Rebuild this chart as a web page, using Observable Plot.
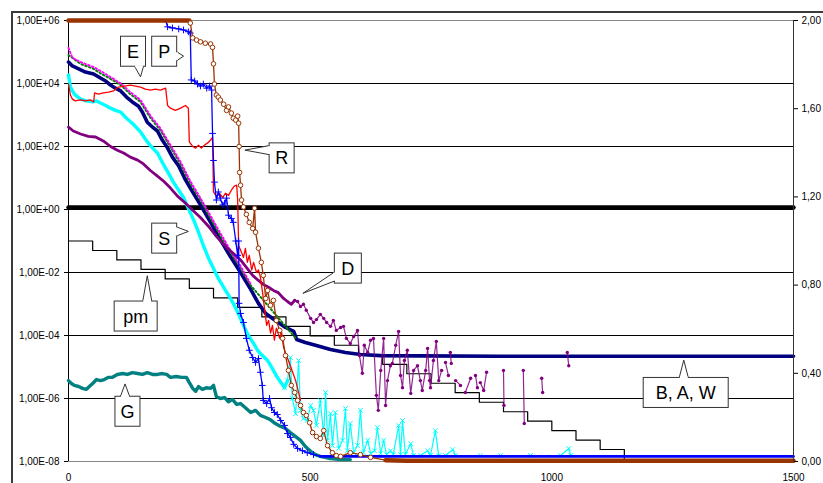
<!DOCTYPE html>
<html><head><meta charset="utf-8">
<script src="https://cdn.jsdelivr.net/npm/d3@7"></script>
<script src="https://cdn.jsdelivr.net/npm/@observablehq/plot@0.6"></script>
<style>
html,body{margin:0;padding:0;background:#fff;overflow:hidden;}
#wrap{position:relative;width:823px;height:483px;overflow:hidden;}
#wrap svg{position:absolute;left:0;top:0;}
#border{position:absolute;left:11px;top:11px;width:900px;height:600px;border-left:2px solid #3a3a3a;border-top:2px solid #3a3a3a;}
</style></head><body><div id="wrap"><div id="border"></div></div>
<script>
// ---------- axis ticks ----------
const xTicks = [0, 500, 1000, 1500];
const yTicks = [1e-8, 1e-6, 1e-4, 1e-2, 1, 1e2, 1e4, 1e6];
const rightTicks = [0, 0.4, 0.8, 1.2, 1.6, 2.0];

// ---------- series (x, value) ----------
const seriesR = [[0,1e6],[110,1e6],[190,1e6],[250,1e6],[252,8.3e5],[257,2.8e5],[265,2.4e5],[273,2.1e5],[283,1.9e5],[294,1.8e5],[298,1.4e5],[300,4.2e4],[302,9.6e3],[306,4.3e3],[310,3.7e3],[314,3.0e3],[321,2.2e3],[327,1.4e3],[331,1.8e3],[337,1.15e3],[341,7.9e2],[346,6.9e2],[350,9.2e2],[352,5.5e2],[353,1.0e2],[354,15],[356,5.9],[358,2.0],[362,1.2],[368,0.7],[374,0.39],[381,0.25],[385,1.1],[387,0.19],[393,0.059],[399,0.021],[403,8.1e-3],[408,1.5e-3],[412,2.7e-3],[418,9.1e-4],[424,1.3e-3],[430,3.0e-4],[437,1.45e-4],[443,8.1e-5],[449,2.3e-5],[455,7.8e-6],[461,2.6e-6],[468,1.55e-6],[474,8.7e-7],[480,6.0e-7],[486,3.6e-7],[492,2.9e-7],[499,1.7e-7],[505,8.3e-8],[513,6.2e-8],[521,5.4e-8],[528,9.6e-8],[536,3.2e-8],[546,1.9e-8],[554,1.55e-8],[563,1.45e-8],[583,1.9e-8],[604,1.65e-8],[625,1.35e-8],[656,1.1e-8],[700,1.05e-8],[800,1.05e-8],[900,1.05e-8],[1000,1.05e-8],[1100,1.05e-8],[1200,1.05e-8],[1300,1.05e-8],[1400,1.05e-8],[1500,1.05e-8]];

const seriesP = [[0,1e6],[100,1e6],[201,1e6],[205,6.3e5],[215,5.8e5],[228,5.4e5],[238,5.0e5],[248,4.4e5],[252,4.0e5],[254,1.3e4],[261,1.2e4],[267,9.6e3],[273,8.3e3],[279,9.6e3],[286,7.1e3],[292,8.3e3],[296,6.2e3],[298,2.6e2],[300,36],[302,7.4],[306,2.0],[310,3.6],[314,2.3],[319,1.4],[323,1.6],[327,2.3],[331,0.66],[337,0.52],[341,0.39],[346,0.10],[350,0.035],[352,0.10],[353,1.05e-3],[356,5.0e-4],[362,2.6e-4],[368,8.1e-5],[374,3.4e-5],[381,2.0e-5],[387,1.4e-5],[393,1.85e-5],[397,6.8e-6],[401,2.6e-6],[403,8.7e-7],[410,6.9e-7],[416,1.0e-6],[420,5.1e-7],[426,3.6e-7],[432,3.1e-7],[439,2.0e-7],[447,1.4e-7],[453,7.7e-8],[459,5.8e-8],[466,3.5e-8],[474,2.6e-8],[484,2.2e-8],[494,1.9e-8],[507,1.65e-8],[521,1.45e-8],[542,1.45e-8],[700,1.45e-8],[900,1.45e-8],[1100,1.45e-8],[1300,1.45e-8],[1500,1.45e-8]];

const seriesE = [[0,9.6e3],[4,4.3e3],[8,3.2e3],[14,2.8e3],[25,3.0e3],[35,2.8e3],[46,3.0e3],[52,2.6e3],[54,5.0e3],[62,4.6e3],[72,5.0e3],[83,5.3e3],[93,5.8e3],[103,7.7e3],[116,8.3e3],[128,8.9e3],[139,8.3e3],[149,7.7e3],[159,6.6e3],[170,6.2e3],[180,6.6e3],[190,6.2e3],[201,7.1e3],[205,2.0e3],[211,1.65e3],[221,1.4e3],[232,1.65e3],[242,2.0e3],[248,1.65e3],[250,1.4e2],[257,1.0e2],[263,89],[269,1.1e2],[275,89],[281,1.1e2],[288,1.3e2],[294,1.6e2],[298,2.0e2],[300,3.6],[306,2.6],[312,3.3],[319,2.4],[325,3.3],[331,2.8],[337,4.1],[343,5.5],[348,5.9],[350,2.0],[352,0.072],[358,0.043],[362,0.030],[366,0.058],[370,0.021],[374,0.035],[379,0.012],[383,0.021],[389,0.010],[393,0.012],[397,7.1e-3],[401,2.7e-3],[406,6.3e-4],[410,2.1e-4],[414,3.0e-4],[418,1.2e-4],[422,2.1e-4],[426,7.1e-5],[430,1.7e-4],[437,8.1e-5],[441,1.26e-4],[445,4.2e-5],[451,2.3e-5],[459,1.1e-5],[470,3.7e-6],[480,8.7e-7]];

const seriesB = [[0,4.8e4],[8,3.6e4],[21,2.9e4],[35,2.3e4],[52,2.0e4],[66,1.5e4],[77,1.2e4],[87,8.9e3],[97,7.1e3],[108,5.8e3],[120,3.7e3],[132,2.6e3],[145,1.9e3],[153,1.23e3],[163,5.9e2],[174,4.1e2],[184,3.1e2],[194,1.6e2],[205,89],[215,46],[228,24],[240,10],[252,4.8],[273,1.4],[294,0.39],[314,0.11],[335,0.032],[356,0.010],[377,2.9e-3],[393,1.05e-3],[408,5.0e-4],[428,3.0e-4],[449,1.8e-4],[466,1.35e-4],[472,7.5e-5],[490,6.0e-5],[511,4.9e-5],[542,3.6e-5],[573,2.9e-5],[604,2.5e-5],[646,2.3e-5],[728,2.25e-5],[894,2.2e-5],[1101,2.2e-5],[1500,2.2e-5]];

const seriesA = [[0,8.0e4],[25,4.2e4],[52,2.9e4],[66,2.1e4],[87,1.4e4],[108,8.9e3],[128,4.6e3],[149,2.6e3],[170,7.9e2],[190,3.3e2],[211,95],[232,27],[252,6.8],[273,2.0],[294,0.52],[314,0.15],[335,0.044],[356,0.0135],[377,3.9e-3],[472,7.5e-5]];

const seriesW = [[0,1.35e5],[8,6.5e4],[25,4.8e4],[52,3.3e4],[66,2.5e4],[87,1.6e4],[108,1.0e4],[128,5.3e3],[149,3.0e3],[170,9.2e2],[190,3.8e2],[211,1.1e2],[232,32],[252,7.9],[273,2.3],[294,0.62],[314,0.18],[335,0.050],[356,0.016],[377,4.2e-3]];

const seriesS = [[0,1.85e4],[4,7.7e3],[12,4.6e3],[25,3.2e3],[37,2.8e3],[50,2.6e3],[58,2.8e3],[66,2.4e3],[77,2.0e3],[87,1.65e3],[97,1.4e3],[108,1.23e3],[120,7.9e2],[134,5.1e2],[149,2.9e2],[163,1.4e2],[174,89],[184,62],[197,26],[207,14],[217,7.4],[228,4.1],[238,2.4],[248,1.1],[259,0.46],[269,0.19],[279,0.072],[290,0.028],[300,0.0135],[310,6.5e-3],[321,3.4e-3],[331,1.9e-3],[341,1.05e-3],[352,4.7e-4],[362,2.1e-4],[372,1.0e-4],[383,5.6e-5],[391,3.4e-5],[401,2.3e-5],[412,1.6e-5],[422,8.9e-6],[432,4.7e-6],[441,3.0e-6],[447,2.2e-6],[453,3.7e-6],[459,2.0e-5],[463,1.0e-6],[470,3.3e-7],[476,1.6e-5],[480,4.2e-7],[486,2.3e-7],[494,2.0e-7],[501,6.0e-7],[507,4.2e-7],[513,1.4e-7],[521,8.7e-7],[528,6.6e-8],[532,1.55e-6],[536,4.7e-8],[542,3.3e-7],[546,3.2e-8],[552,3.6e-7],[559,2.6e-8],[567,4.7e-8],[573,4.8e-7],[577,2.2e-8],[583,1.6e-7],[590,1.9e-8],[598,3.2e-8],[604,4.2e-7],[610,1.9e-8],[619,4.7e-8],[625,1.8e-8],[633,2.2e-8],[639,1.2e-7],[646,1.8e-8],[652,4.7e-8],[658,1.65e-8],[666,2.2e-8],[672,1.65e-8],[683,1.4e-7],[687,1.65e-8],[691,2.0e-7],[697,1.65e-8],[708,3.7e-8],[714,1.55e-8],[728,1.55e-8],[743,2.2e-8],[749,1.55e-8],[759,9.6e-8],[766,1.55e-8],[780,1.55e-8],[795,2.4e-8],[801,1.55e-8],[852,1.55e-8],[894,1.55e-8],[956,1.55e-8],[1018,1.55e-8],[1035,2.6e-8],[1039,1.55e-8]];

const seriesD = [[0,4.1e2],[10,3.1e2],[25,2.5e2],[41,2.1e2],[56,2.0e2],[72,1.5e2],[87,1.0e2],[101,76],[114,62],[128,46],[143,37],[155,28],[170,17],[184,11.5],[197,7.9],[211,4.8],[226,2.6],[240,1.7],[257,0.95],[273,0.56],[290,0.29],[306,0.14],[319,0.085],[331,0.055],[343,0.038],[356,0.025],[368,0.0145],[381,8.1e-3],[393,5.6e-3],[403,4.2e-3],[414,3.4e-3],[424,2.7e-3],[434,2.3e-3],[445,1.5e-3],[453,1.2e-3],[461,9.8e-4],[468,1.3e-3],[474,1.2e-3],[480,8.3e-4],[486,9.8e-4],[492,6.3e-4],[501,3.5e-4],[507,2.6e-4],[513,3.2e-4],[521,4.7e-4],[528,3.5e-4],[534,2.6e-4],[542,1.95e-4],[548,3.0e-4],[554,1.45e-4],[563,1.8e-4],[569,1.95e-4],[575,8.1e-5],[583,5.6e-5],[590,9.3e-5],[598,1.45e-4],[602,2.3e-5],[608,6.3e-6],[612,4.9e-5],[619,2.9e-5],[625,7.1e-5],[631,8.1e-5],[637,1.26e-6],[641,4.2e-7],[646,7.8e-6],[652,8.1e-5],[656,6.0e-7],[660,3.7e-6],[666,1.1e-5],[670,1.3e-5],[677,4.9e-5],[683,1.35e-4],[687,5.4e-6],[691,2.2e-6],[695,1.6e-5],[701,3.4e-5],[708,1.45e-6],[714,7.8e-6],[722,1.1e-5],[728,3.7e-6],[732,1.8e-6],[739,7.8e-6],[743,3.9e-5],[747,3.7e-6],[749,2.2e-6],[755,1.6e-5],[761,6.5e-5],[766,3.7e-6],[772,7.8e-6],[776,NaN],[780,1.4e-5],[786,5.4e-6],[788,NaN],[790,2.9e-5],[792,1.3e-5],[796,NaN],[801,3.7e-6],[811,2.6e-6],[816,NaN],[821,1.55e-6],[832,4.4e-6],[838,NaN],[842,5.4e-6],[846,2.2e-6],[849,NaN],[852,3.2e-6],[859,1.8e-6],[865,6.8e-6],[880,NaN],[900,7.8e-6],[901,6.0e-7],[920,NaN],[941,7.8e-6],[943,1.6e-7],[960,NaN],[979,4.4e-6],[981,1.55e-6],[1000,NaN],[1032,2.9e-5],[1035,1.1e-5]];

const seriesG = [[0,3.7e-6],[6,3.0e-6],[12,2.6e-6],[21,2.4e-6],[29,2.1e-6],[37,1.95e-6],[43,2.4e-6],[50,3.0e-6],[58,4.0e-6],[66,3.7e-6],[74,4.0e-6],[83,4.7e-6],[91,4.7e-6],[101,5.8e-6],[112,6.2e-6],[122,5.8e-6],[132,6.6e-6],[143,6.2e-6],[153,5.8e-6],[163,6.6e-6],[174,5.8e-6],[184,5.8e-6],[194,6.2e-6],[203,5.8e-6],[211,4.7e-6],[223,5.0e-6],[234,4.7e-6],[244,4.7e-6],[250,3.2e-6],[257,2.1e-6],[263,1.7e-6],[269,2.4e-6],[277,1.95e-6],[286,2.2e-6],[294,2.1e-6],[300,2.6e-6],[306,1.15e-6],[314,1.0e-6],[323,1.07e-6],[331,7.9e-7],[339,9.3e-7],[348,6.5e-7],[356,6.9e-7],[366,5.1e-7],[377,3.6e-7],[387,4.2e-7],[397,2.9e-7],[408,2.5e-7],[418,2.1e-7],[428,1.6e-7],[439,1.3e-7],[449,1.12e-7],[459,8.3e-8],[470,6.2e-8],[480,4.7e-8],[490,3.0e-8],[501,2.1e-8],[511,1.65e-8],[521,1.45e-8],[542,1.23e-8],[563,1.15e-8],[583,1.15e-8]];

const seriesPm = [[0,1e-1],[50,5e-2],[100,2.5e-2],[150,1.25e-2],[200,6.25e-3],[250,3.13e-3],[300,1.56e-3],[350,7.8e-4],[400,3.9e-4],[450,1.95e-4],[500,9.8e-5],[550,4.9e-5],[600,2.44e-5],[650,1.22e-5],[700,6.1e-6],[750,3.05e-6],[800,1.53e-6],[850,7.6e-7],[900,3.8e-7],[950,1.9e-7],[1000,9.5e-8],[1050,4.8e-8],[1100,2.4e-8],[1150,1e-8]];

const seriesOne = [[0,1.15],[1500,1.15]];

// ---------- callouts (label, box centre, pointer tip) ----------
const calloutLabels = ["E", "P", "R", "S", "pm", "G", "D", "B, A, W"];
const calloutX = [134.5, 199, 442, 199, 140, 123, 579, 1278];
const calloutY = [1.02e5, 1.02e5, 42, 0.119, 4.0e-4, 3.8e-7, 0.0133, 1.5e-6];
const tipX = [150, 239, 366, 249, 164, 118, 486, 1274];
const tipY = [1.57e4, 7.1e4, 74, 0.194, 7.6e-3, 2.8e-6, 2.1e-3, 1.6e-5];

// ---------- build ----------
const rows = arr => arr.map(([x, y]) => ({x, y}));
const R = rows(seriesR), P = rows(seriesP), E = rows(seriesE), B = rows(seriesB),
      A = rows(seriesA), W = rows(seriesW), S = rows(seriesS), D = rows(seriesD),
      G = rows(seriesG), PM = rows(seriesPm), ONE = rows(seriesOne);

const fmtE = d => {
  const e = Math.round(Math.log10(d));
  return "1,00E" + (e < 0 ? "-" : "+") + String(Math.abs(e)).padStart(2, "0");
};
const FONT = "'Liberation Sans', Arial, sans-serif";
const M = {marginLeft: 68, marginRight: 30, marginTop: 20, marginBottom: 22};
const xy = {x: "x", y: "y"};
const C = {brown: "#993300", blue: "#0000ff", red: "#ff0000", navy: "#000080", green: "#008000",
           magenta: "#ff00ff", cyan: "#00ffff", purple: "#800080", teal: "#008080"};

const plot = Plot.plot({
  width: 823, height: 483, ...M,
  style: {fontFamily: FONT, fontSize: "10px", background: "transparent", color: "#000", overflow: "visible"},
  x: {domain: [0, 1500], ticks: xTicks, tickSize: 0, tickPadding: 12, label: null, tickFormat: d => String(d)},
  y: {type: "log", domain: [1e-8, 1e6], ticks: yTicks, tickSize: 4, tickPadding: 5, label: null, tickFormat: fmtE},
  marks: [
    Plot.ruleY(yTicks.filter(v => v > 1e-8 && v < 1e6), {stroke: "#000", strokeWidth: 1}),
    Plot.ruleY([1e6], {stroke: "#888"}),
    Plot.ruleY([1e-8], {stroke: "#888"}),
    Plot.ruleX([0], {stroke: "#000"}),
    Plot.line(ONE, {...xy, stroke: "#000", strokeWidth: 4.5}),
    Plot.line(PM, {...xy, curve: "step-after", stroke: "#000", strokeWidth: 1.2}),
    Plot.line(G, {...xy, stroke: C.teal, strokeWidth: 3.4, strokeLinejoin: "round"}),
    Plot.line(B, {...xy, stroke: C.navy, strokeWidth: 3.6, strokeLinejoin: "round"}),
    Plot.line(A, {...xy, stroke: C.green, strokeWidth: 2, strokeDasharray: "1.5,2.5"}),
    Plot.line(W, {...xy, stroke: C.magenta, strokeWidth: 2, strokeDasharray: "1.5,2.5"}),
    Plot.line(S, {...xy, filter: d => d.x <= 453, stroke: C.cyan, strokeWidth: 3.4, strokeLinejoin: "round"}),
    Plot.line(S, {...xy, filter: d => d.x >= 447, stroke: C.cyan, strokeWidth: 1.2}),
    Plot.dot(S, {...xy, filter: d => d.x >= 447, symbol: "times", r: 2.2, stroke: C.cyan, strokeWidth: 1}),
    Plot.line(D, {...xy, filter: d => d.x <= 470, stroke: C.purple, strokeWidth: 2.8, strokeLinejoin: "round"}),
    Plot.line(D, {...xy, filter: d => d.x >= 468, stroke: C.purple, strokeWidth: 1.2, strokeOpacity: 0.85}),
    Plot.dot(D, {...xy, filter: d => d.x >= 468, r: 1.7, fill: C.purple}),
    Plot.line(E, {...xy, stroke: C.red, strokeWidth: 1.3}),
    Plot.line(P, {...xy, stroke: C.blue, strokeWidth: 1.3}),
    Plot.line(P, {...xy, filter: d => d.x >= 521, stroke: C.blue, strokeWidth: 2.6}),
    Plot.dot(P, {...xy, filter: d => d.x > 201 && d.x < 521, symbol: "plus", r: 2.3, stroke: C.blue, strokeWidth: 1}),
    Plot.line(R, {...xy, stroke: C.brown, strokeWidth: 1.3}),
    Plot.line(R, {...xy, filter: d => d.x <= 250, stroke: C.brown, strokeWidth: 4.5}),
    Plot.line(R, {...xy, filter: d => d.x >= 656, stroke: C.brown, strokeWidth: 4.5}),
    Plot.dot(R, {...xy, filter: d => d.x > 250 && d.x < 656, r: 2.3, fill: "#fff", stroke: C.brown, strokeWidth: 1})
  ]
});

const right = Plot.plot({
  width: 823, height: 483, ...M,
  style: {fontFamily: FONT, fontSize: "10px", background: "transparent", color: "#000", overflow: "visible"},
  x: {domain: [0, 1500], axis: null},
  y: {domain: [0, 2], axis: "right", ticks: rightTicks, tickSize: 4, tickPadding: 4, label: null,
      tickFormat: d => d.toFixed(2).replace(".", ",")},
  marks: [Plot.ruleX([1500], {stroke: "#333"})]
});

const wrap = document.getElementById("wrap");
wrap.appendChild(plot);
wrap.appendChild(right);

// ---------- callouts drawn through the plot's scales ----------
const sx = plot.scale("x"), sy = plot.scale("y");
const fx = d3.scaleLinear(sx.domain, sx.range);
const fy = d3.scaleLog(sy.domain, sy.range);
const boxW = {"E": 25, "P": 25, "R": 25, "S": 25, "pm": 43, "G": 25, "D": 27, "B, A, W": 85};
const boxH = 30, half = 4.5;
const g = d3.select(plot).append("g").attr("class", "callouts");
calloutLabels.forEach((lab, i) => {
  const cx = fx(calloutX[i]), cy = fy(calloutY[i]);
  const w = boxW[lab], h = boxH, L = cx - w / 2, T = cy - h / 2;
  const tx = fx(tipX[i]), ty = fy(tipY[i]);
  const dx = tx < L ? L - tx : tx > L + w ? tx - (L + w) : 0;
  const dy = ty < T ? T - ty : ty > T + h ? ty - (T + h) : 0;
  const clamp = (v, a, b) => Math.max(a, Math.min(b, v));
  let p1, p2, e1, e2;
  if (dx >= dy) {
    const ex = tx < L ? L : L + w;
    const by = clamp(ty, T + half + 2, T + h - half - 2);
    p1 = [ex, by - half]; p2 = [ex, by + half];
    e1 = [ex, by - half + 0.6]; e2 = [ex, by + half - 0.6];
  } else {
    const ey = ty < T ? T : T + h;
    const bx = clamp(tx, L + half + 2, L + w - half - 2);
    p1 = [bx - half, ey]; p2 = [bx + half, ey];
    e1 = [bx - half + 0.6, ey]; e2 = [bx + half - 0.6, ey];
  }
  g.append("rect").attr("x", L).attr("y", T).attr("width", w).attr("height", h)
    .attr("fill", "#fff").attr("stroke", "#333").attr("stroke-width", 1);
  g.append("path").attr("d", `M${p1[0]},${p1[1]}L${tx},${ty}L${p2[0]},${p2[1]}`)
    .attr("fill", "#fff").attr("stroke", "#333").attr("stroke-width", 1);
  g.append("line").attr("x1", e1[0]).attr("y1", e1[1]).attr("x2", e2[0]).attr("y2", e2[1])
    .attr("stroke", "#fff").attr("stroke-width", 2);
  g.append("text").attr("x", cx).attr("y", cy).attr("dy", "0.36em")
    .attr("text-anchor", "middle").attr("font-family", FONT).attr("font-size", 18)
    .attr("fill", "#000").text(lab);
});
</script></body></html>
